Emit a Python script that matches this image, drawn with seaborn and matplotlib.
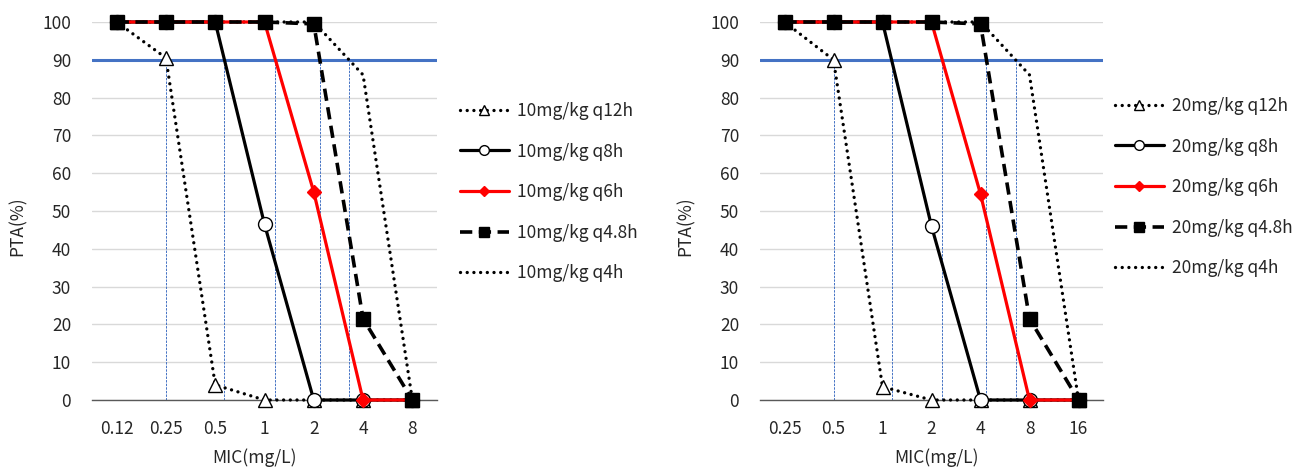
import numpy as np
import matplotlib
matplotlib.use("Agg")
import matplotlib.pyplot as plt
import seaborn as sns
from matplotlib.ticker import FixedLocator

# MIC categories on the two panels
mic_10 = ["0.12", "0.25", "0.5", "1", "2", "4", "8"]
mic_20 = ["0.25", "0.5", "1", "2", "4", "8", "16"]

# PTA (%), 10 mg/kg panel
pta10_q12h = [100, 90.5, 4, 0, 0, 0, 0]
pta10_q8h = [100, 100, 100, 46.5, 0, 0, 0]
pta10_q6h = [100, 100, 100, 100, 55, 0, 0]
pta10_q48h = [100, 100, 100, 100, 99.5, 21.5, 0]
pta10_q4h = [100, 100, 100, 100, 100, 86, 0]

# PTA (%) 20 mg/kg panel
pta20_q12h = [100, 90, 3.5, 0, 0, 0, 0]
pta20_q8h = [100, 100, 100, 46, 0, 0, 0]
pta20_q6h = [100, 100, 100, 100, 54.5, 0, 0]
pta20_q48h = [100, 100, 100, 100, 99.5, 21.5, 0]
pta20_q4h = [100, 100, 100, 100, 100, 86, 0]

intervals = ["q12h", "q8h", "q6h", "q4.8h", "q4h"]
target = 90

BLUE = "#4472C4"
AXIS = "#595959"
TXT = "#262626"
FS = 12.5

styles = {
    "q12h": dict(color="black", lw=2.4, linestyle=(0, (0.01, 2.0)), dash_capstyle="round",
                 marker="^", markerfacecolor="white", markeredgecolor="black",
                 markeredgewidth=1.0, markersize=10, zorder=3),
    "q8h": dict(color="black", lw=2.3, linestyle="-", marker="o", markerfacecolor="white",
                markeredgecolor="black", markeredgewidth=1.0, markersize=10, zorder=4),
    "q6h": dict(color="#FF0000", lw=2.3, linestyle="-", marker="D", markerfacecolor="#FF0000",
                markeredgecolor="#FF0000", markeredgewidth=1.0, markersize=7.5, zorder=5),
    "q4.8h": dict(color="black", lw=2.6, linestyle=(0, (3.4, 1.8)), marker="s",
                  markerfacecolor="black", markeredgecolor="black", markeredgewidth=1.0,
                  markersize=10, zorder=6),
    "q4h": dict(color="black", lw=2.4, linestyle=(0, (0.01, 2.0)), dash_capstyle="round",
                marker=None, zorder=2),
}


def crossing(vals, level):
    # position on the category axis where a curve first falls below the target
    for i in range(len(vals) - 1):
        if vals[i] >= level and vals[i + 1] < level:
            return i + (vals[i] - level) / (vals[i] - vals[i + 1])
    return None


def draw_panel(ax, mic, series, dose, legend_xy, xlabel_x):
    idx = np.arange(len(mic))
    ax.set_axisbelow(True)
    ax.yaxis.grid(True, color="#D9D9D9", lw=1.0)
    ax.xaxis.grid(False)

    for name, vals in zip(intervals, series):
        kw = dict(styles[name])
        sns.lineplot(x=idx, y=vals, ax=ax, label=f"{dose}mg/kg {name}",
                     clip_on=False, **kw)

    ax.axhline(target, color=BLUE, lw=2.2, zorder=1.5)
    for vals in series:
        c = crossing(vals, target)
        if c is not None:
            ax.vlines(c, 0, target, color=BLUE, lw=0.7, linestyles=(0, (2.5, 1.2)), zorder=1)

    ax.set_xlim(-0.5, len(mic) - 0.5)
    ax.set_ylim(0, 100)
    ax.set_xticks(idx)
    ax.set_xticklabels(mic)
    ax.xaxis.set_minor_locator(FixedLocator([len(mic) - 0.5]))
    ax.set_yticks(np.arange(0, 101, 10))
    ax.tick_params(axis="x", which="both", direction="inout", length=5, width=0.9,
                   color=AXIS, labelsize=FS, labelcolor=TXT, pad=12)
    ax.tick_params(axis="y", length=0, labelsize=FS, labelcolor=TXT, pad=15)
    for s in ["left", "right", "top"]:
        ax.spines[s].set_visible(False)
    ax.spines["bottom"].set_color(AXIS)
    ax.spines["bottom"].set_linewidth(1.0)
    ax.spines["bottom"].set_zorder(1.6)

    ax.set_xlabel("MIC(mg/L)", fontsize=FS, color=TXT)
    ax.set_ylabel("PTA(%)", fontsize=FS, color=TXT)
    ax.xaxis.set_label_coords(xlabel_x, -0.128)
    ax.yaxis.set_label_coords(-0.19, 0.46)

    handles, labels = ax.get_legend_handles_labels()
    ax.legend(handles, labels, loc="upper left", bbox_to_anchor=legend_xy,
              bbox_transform=ax.figure.transFigure, frameon=False, borderpad=0,
              borderaxespad=0, handlelength=2.8, handletextpad=0.5, labelspacing=1.3,
              fontsize=FS, markerscale=0.7, labelcolor=TXT)


sns.set_theme(style="white")
plt.rcParams["font.family"] = ["Noto Sans CJK KR", "DejaVu Sans"]

fig = plt.figure(figsize=(13.13, 4.73), dpi=100)
ax1 = fig.add_axes([92 / 1313, 1 - 400 / 473, 345 / 1313, 378 / 473])
ax2 = fig.add_axes([760 / 1313, 1 - 400 / 473, 343 / 1313, 378 / 473])

draw_panel(ax1, mic_10, [pta10_q12h, pta10_q8h, pta10_q6h, pta10_q48h, pta10_q4h], 10,
           (460 / 1313, 1 - 102 / 473), 0.472)
draw_panel(ax2, mic_20, [pta20_q12h, pta20_q8h, pta20_q6h, pta20_q48h, pta20_q4h], 20,
           (1115 / 1313, 1 - 97 / 473), 0.516)

fig.savefig("out.png", dpi=100)
